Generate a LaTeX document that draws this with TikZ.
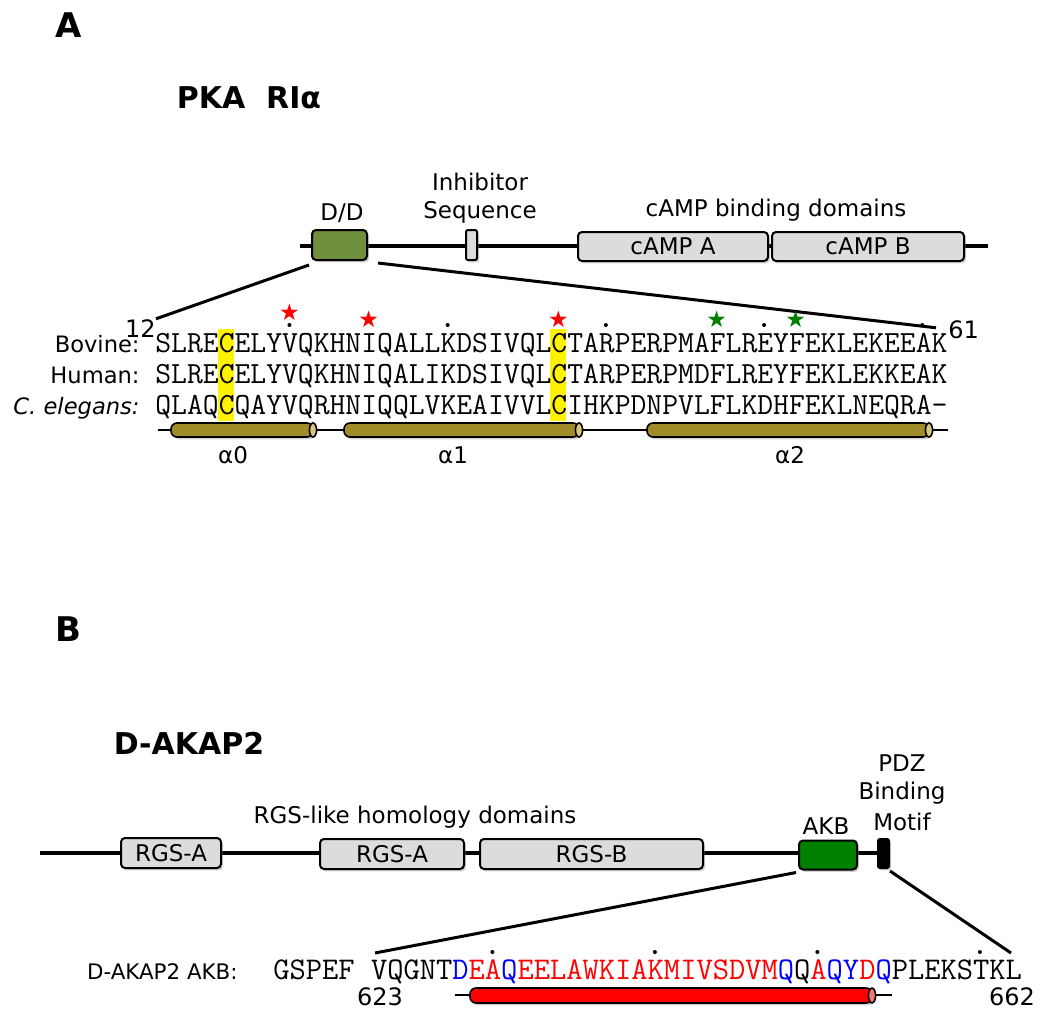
\documentclass[tikz,border=0pt]{standalone}
\usepackage{fontspec}
\setmainfont{DejaVu Sans}
\usepackage{tikz}
\usetikzlibrary{positioning,shadows}

\definecolor{ddgreen}{RGB}{112,143,58}
\definecolor{akbgreen}{RGB}{0,128,0}
\definecolor{boxgray}{RGB}{220,220,220}
\definecolor{helixolive}{RGB}{160,140,40}
\definecolor{helixcap}{RGB}{212,198,130}
\definecolor{helixcapred}{RGB}{240,120,120}
\definecolor{seqblue}{RGB}{0,0,255}
\definecolor{seqred}{RGB}{255,0,0}

\tikzset{
	dom/.style={draw=black, line width=1pt, rounded corners=2pt, fill=boxgray, inner sep=0pt,
		font=\fontsize{11.5}{13}\selectfont,
		drop shadow={shadow xshift=1pt, shadow yshift=-1.2pt, opacity=0.35}},
	lbl/.style={font=\fontsize{11.5}{13}\selectfont, inner sep=0pt},
	seqlbl/.style={font=\fontsize{11.3}{13}\selectfont, inner sep=0pt, anchor=base east},
	seqA/.style={font=\ttfamily\fontsize{15.38}{17}\selectfont, inner sep=0pt, anchor=base west,
		text height=9.6pt, text depth=2pt},
	seqB/.style={font=\ttfamily\fontsize{15.8}{17}\selectfont, inner sep=0pt, anchor=base west,
		text height=9.8pt, text depth=2pt},
	helix/.style={draw=black, line width=0.8pt, rounded corners=3pt,
		drop shadow={shadow xshift=1pt, shadow yshift=-1.2pt, opacity=0.35}},
	zoomline/.style={line width=1.5pt},
	mark star/.style={font=\fontsize{11.5}{12}\selectfont, inner sep=0pt, text height=7pt, text depth=0pt}
}

\begin{document}
\begin{tikzpicture}[x=0.5pt, y=-0.5pt]
	\useasboundingbox (0,0) rectangle (1050,1028);

	% panel A
	\node[font=\bfseries\fontsize{17}{20}\selectfont] (labA) at (69,25) {A};
	\node[font=\bfseries\fontsize{15}{18}\selectfont] (titleA) at (249,98) {PKA~~RIα};

	\coordinate (Astart) at (300,246);
	\coordinate (Aend) at (988,246);
	\draw[line width=2.2pt] (Astart) -- (Aend);

	\node[dom, fill=ddgreen, minimum width=27.5pt, minimum height=15pt] (DD) at (339.5,245) {};
	\node[dom, rounded corners=1pt, minimum width=5.5pt, minimum height=15pt] (inhib) at (471.5,245) {};
	\node[dom, minimum width=95pt, minimum height=14.5pt] (campA) at (673,246.5) {cAMP A};
	\node[dom, minimum width=96pt, minimum height=14.5pt] (campB) at (868,246.5) {cAMP B};

	\node[lbl] (ddlbl) at (342,213) {D/D};
	\node[lbl] (inhlbl1) at (480,182) {Inhibitor};
	\node[lbl] (inhlbl2) at (480,212) {Sequence};
	\node[lbl] (camplbl) at (776,210) {cAMP binding domains};

	% alignment
	\fill[yellow] (218,329) rectangle (234,421);
	\fill[yellow] (550,329) rectangle (566,421);

	\node[font=\fontsize{12}{14}\selectfont, inner sep=0pt, anchor=base east] (n12) at (156,337) {12};
	\node[font=\fontsize{12}{14}\selectfont, inner sep=0pt, anchor=base west] (n61) at (948,338) {61};
	\draw[zoomline] ([xshift=-1pt,yshift=-2pt]DD.south west) -- (n12.north east);
	\draw[zoomline] ([xshift=5pt,yshift=-1pt]DD.south east) -- ([xshift=-6pt,yshift=-4pt]n61.north west);

	\node[seqlbl] (bovlbl) at (140,352) {Bovine:};
	\node[seqlbl] (humlbl) at (140,383) {Human:};
	\node[seqlbl] (cellbl) at (140,414) {\itshape C. elegans:};
	\node[seqA] (bov) at (155,352) {SLRECELYVQKHNIQALLKDSIVQLCTARPERPMAFLREYFEKLEKEEAK};
	\node[seqA] (hum) at (155,383) {SLRECELYVQKHNIQALIKDSIVQLCTARPERPMDFLREYFEKLEKKEAK};
	\node[seqA] (cel) at (155,414) {QLAQCQAYVQRHNIQQLVKEAIVVLCIHKPDNPVLFLKDHFEKLNEQRA-};

	\foreach \c in {9,19,29,39,49}
		\fill (155+\c*15.82-7.91,325) circle[radius=1pt];
	\node[mark star, text=red] (st1) at (289.5,313) {★};
	\node[mark star, text=red] (st2) at (368.6,320) {★};
	\node[mark star, text=red] (st3) at (558.4,320) {★};
	\node[mark star, text=green!50!black] (st4) at (716.6,320) {★};
	\node[mark star, text=green!50!black] (st5) at (795.7,320) {★};

	% helices A
	\draw[line width=0.6pt] (158,430) -- (948,430);
	\foreach \a/\b in {171/313, 344/579, 647/929}{
		\draw[helix, fill=helixolive] (\a,423) rectangle (\b,437);
		\draw[line width=0.8pt, fill=helixcap] (\b,430) ellipse[x radius=1.8pt, y radius=3.5pt];
	}
	\node[lbl, font=\fontsize{11.5}{13}\selectfont] (h0) at (233,455) {α0};
	\node[lbl, font=\fontsize{11.5}{13}\selectfont] (h1) at (453,455) {α1};
	\node[lbl, font=\fontsize{11.5}{13}\selectfont] (h2) at (790,455) {α2};

	% panel B
	\node[font=\bfseries\fontsize{17}{20}\selectfont] (labB) at (68,629) {B};
	\node[font=\bfseries\fontsize{15}{18}\selectfont] (titleB) at (189,743) {D-AKAP2};

	\coordinate (Bstart) at (40,853);
	\coordinate (Bend) at (883,853);
	\draw[line width=2.2pt] (Bstart) -- (Bend);

	\node[dom, minimum width=50pt, minimum height=15pt] (rgsa1) at (171,853) {RGS-A};
	\node[dom, minimum width=72pt, minimum height=15pt] (rgsa2) at (392,854) {RGS-A};
	\node[dom, minimum width=111.5pt, minimum height=15pt] (rgsb) at (591.5,854) {RGS-B};
	\node[dom, fill=akbgreen, minimum width=29pt, minimum height=14.5pt] (akb) at (828,855) {};
	\node[dom, fill=black, rounded corners=1pt, minimum width=5.5pt, minimum height=14.5pt] (pdz) at (883.5,853.5) {};

	\node[lbl] (rgslbl) at (415,817) {RGS-like homology domains};
	\node[lbl] (akblbl) at (826,826) {AKB};
	\node[lbl] (pdz1) at (902,763) {PDZ};
	\node[lbl] (pdz2) at (902,793) {Binding};
	\node[lbl] (pdz3) at (902,822) {Motif};

	\node[seqlbl, font=\fontsize{10.7}{13}\selectfont] (akblbl2) at (238,979) {D-AKAP2 AKB:};
	\node[seqB] (akbseq) at (273,979) {GSPEF VQGNT\textcolor{seqblue}{D}\textcolor{seqred}{EA}\textcolor{seqblue}{Q}\textcolor{seqred}{EELAWKIAKMIVSDVM}\textcolor{seqblue}{Q}Q\textcolor{seqred}{A}\textcolor{seqblue}{QY}\textcolor{seqred}{D}\textcolor{seqblue}{Q}PLEKSTKL};
	\foreach \c in {14,24,34,44}
		\fill (273+\c*16.25-8.125,952) circle[radius=1pt];

	\node[font=\fontsize{12}{14}\selectfont, inner sep=0pt] (n623) at (380,997) {623};
	\node[font=\fontsize{12}{14}\selectfont, inner sep=0pt] (n662) at (1012,997) {662};
	\coordinate (akbleft) at (375,953);
	\coordinate (akbright) at (1011,953);
	\draw[zoomline] ([xshift=-1pt,yshift=-1pt]akb.south west) -- (akbleft);
	\draw[zoomline] ([yshift=-1pt]pdz.south east) -- (akbright);

	% helix B
	\draw[line width=0.6pt] (455,995) -- (892,995);
	\draw[helix, fill=red] (470,988) rectangle (872,1003);
	\draw[line width=0.8pt, fill=helixcapred] (872,995.5) ellipse[x radius=1.8pt, y radius=3.7pt];
\end{tikzpicture}
\end{document}
